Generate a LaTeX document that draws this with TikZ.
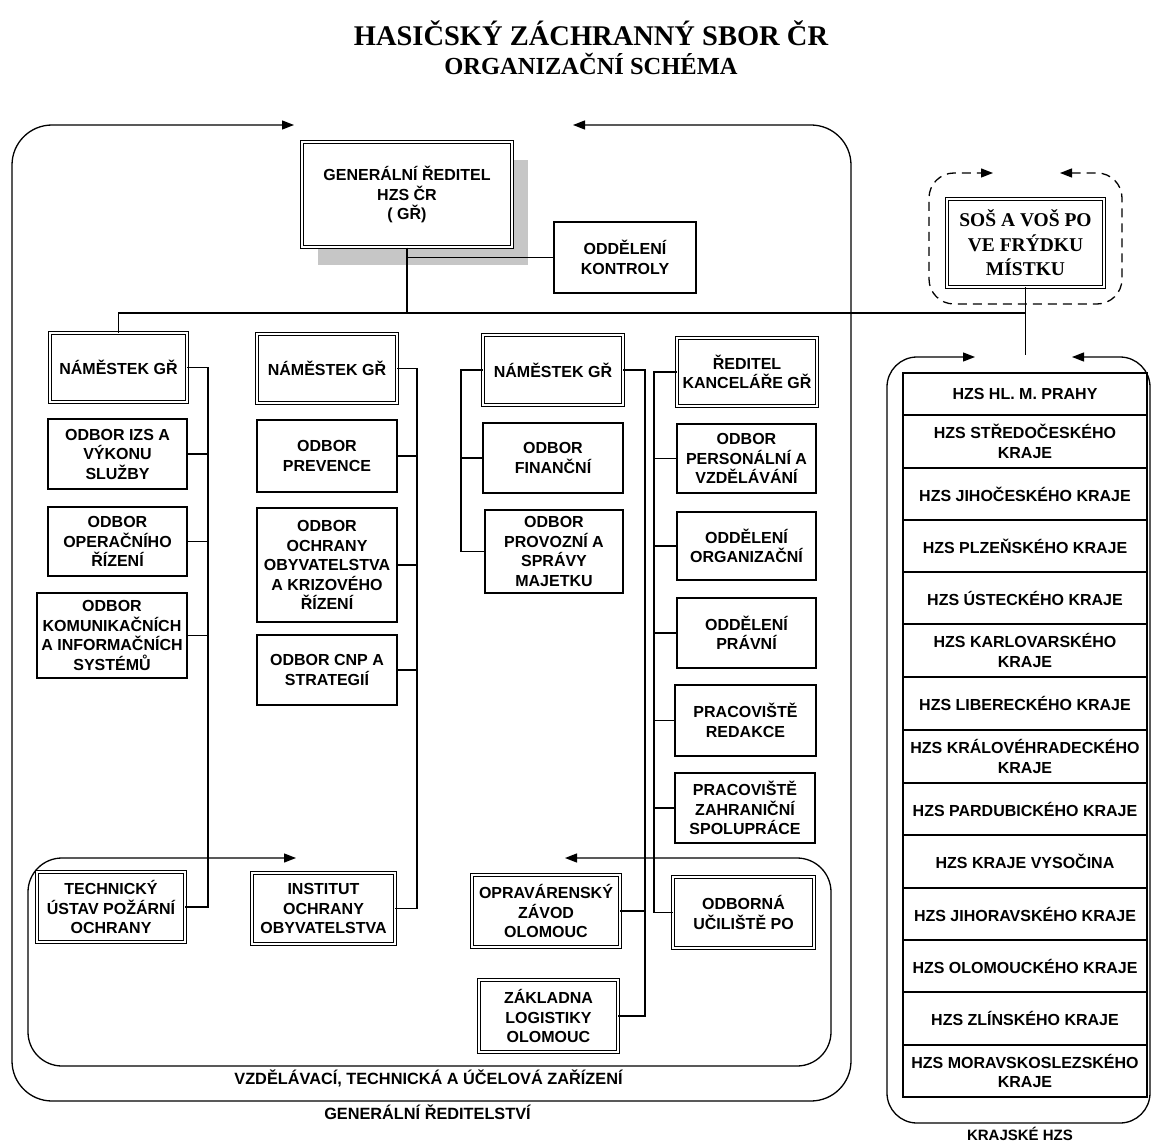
\documentclass[tikz,border=0pt]{standalone}
\usepackage{fontspec}
\setmainfont{Liberation Serif}
\newfontfamily\hv{Liberation Sans}
\usetikzlibrary{arrows.meta}
\newcommand{\boxfont}{\hv\bfseries\fontsize{16}{19.5}\selectfont}
\tikzset{
  bx/.style={draw, line width=1.1pt, inner sep=1pt, align=center, font=\boxfont, fill=white},
  dbx/.style={bx, double, double distance=1.6pt, line width=0.9pt},
  conn/.style={line width=1.2pt},
  frame/.style={line width=1.3pt, {Triangle[length=12pt,width=9pt]}-{Triangle[length=12pt,width=9pt]}},
  lbl/.style={font=\hv\bfseries\fontsize{16.3}{18}\selectfont, inner sep=0pt}
}
\begin{document}
\begin{tikzpicture}[x=1pt,y=-1pt]
\useasboundingbox[fill=white] (0,0) rectangle (1152,1142);

% titles
\node[font=\bfseries\fontsize{28.5}{30}\selectfont, inner sep=0pt] (t1) at (591,33) {HASIČSKÝ ZÁCHRANNÝ SBOR ČR};
\node[font=\bfseries\fontsize{24.5}{26}\selectfont, inner sep=0pt] (t2) at (591,64) {ORGANIZAČNÍ SCHÉMA};

% frames
\draw[frame, rounded corners=40pt] (573,125) -- (851,125) -- (851,1101) -- (12,1101) -- (12,125) -- (294,125);
\draw[frame, rounded corners=34pt] (565,858) -- (831,858) -- (831,1066) -- (28,1066) -- (28,858) -- (296,858);
\draw[frame, dashed, dash pattern=on 9pt off 6pt, rounded corners=25pt] (1060,173) -- (1122,173) -- (1122,304) -- (929,304) -- (929,173) -- (993,173);
\draw[frame, rounded corners=30pt] (1072,357) -- (1150,357) -- (1150,1123) -- (887,1123) -- (887,357) -- (975,357);

% GR with shadow
\fill[gray!45] (318,160) rectangle (528,265);
\node[dbx, minimum width=210pt, minimum height=105pt, line width=1.2pt] (gr) at (407,194.5) {GENERÁLNÍ ŘEDITEL\\HZS ČR\\( GŘ)};
\node[bx, minimum width=142pt, minimum height=71pt] (kon) at (625,257.5) {ODDĚLENÍ\\KONTROLY};
\node[dbx, minimum width=157pt, minimum height=88pt, font=\bfseries\fontsize{19.5}{24.5}\selectfont] (sos) at (1025.5,243) {SOŠ A VOŠ PO\\VE FRÝDKU\\MÍSTKU};

% heads
\node[dbx, minimum width=137pt, minimum height=69pt] (n1) at (118.5,367.5) {NÁMĚSTEK GŘ};
\node[dbx, minimum width=140pt, minimum height=69pt] (n2) at (327,368.5) {NÁMĚSTEK GŘ};
\node[dbx, minimum width=140pt, minimum height=70pt] (n3) at (553,370) {NÁMĚSTEK GŘ};
\node[dbx, minimum width=140pt, minimum height=68pt] (rk) at (747,372) {ŘEDITEL\\KANCELÁŘE GŘ};

% column 1
\node[bx, minimum width=139pt, minimum height=70pt] (izs) at (117.5,454) {ODBOR IZS A\\VÝKONU\\SLUŽBY};
\node[bx, minimum width=139pt, minimum height=69pt] (oper) at (117.5,541.5) {ODBOR\\OPERAČNÍHO\\ŘÍZENÍ};
\node[bx, minimum width=150pt, minimum height=85pt] (kom) at (112,635.5) {ODBOR\\KOMUNIKAČNÍCH\\A INFORMAČNÍCH\\SYSTÉMŮ};
\node[dbx, minimum width=148pt, minimum height=70pt] (tu) at (111,907) {TECHNICKÝ\\ÚSTAV POŽÁRNÍ\\OCHRANY};

% column 2
\node[bx, minimum width=140pt, minimum height=72pt] (prev) at (327,456) {ODBOR\\PREVENCE};
\node[bx, minimum width=140pt, minimum height=114pt] (ochr) at (327,565) {ODBOR\\OCHRANY\\OBYVATELSTVA\\A KRIZOVÉHO\\ŘÍZENÍ};
\node[bx, minimum width=140pt, minimum height=70pt] (cnp) at (327,670) {ODBOR CNP A\\STRATEGIÍ};
\node[dbx, minimum width=143pt, minimum height=71pt] (ioo) at (323.5,908.5) {INSTITUT\\OCHRANY\\OBYVATELSTVA};

% column 3
\node[bx, minimum width=140pt, minimum height=70pt] (fin) at (553,458) {ODBOR\\FINANČNÍ};
\node[bx, minimum width=138pt, minimum height=83pt] (prov) at (554,551.5) {ODBOR\\PROVOZNÍ A\\SPRÁVY\\MAJETKU};
\node[dbx, minimum width=148pt, minimum height=72pt] (ozo) at (546,911) {OPRAVÁRENSKÝ\\ZÁVOD\\OLOMOUC};
\node[dbx, minimum width=139pt, minimum height=72pt] (zlo) at (548.5,1016) {ZÁKLADNA\\LOGISTIKY\\OLOMOUC};

% column 4
\node[bx, minimum width=139pt, minimum height=69pt] (pers) at (746.5,458.5) {ODBOR\\PERSONÁLNÍ A\\VZDĚLÁVÁNÍ};
\node[bx, minimum width=139pt, minimum height=68pt] (org) at (746.5,546) {ODDĚLENÍ\\ORGANIZAČNÍ};
\node[bx, minimum width=139pt, minimum height=70pt] (prav) at (746.5,633) {ODDĚLENÍ\\PRÁVNÍ};
\node[bx, minimum width=141pt, minimum height=71pt] (red) at (745.5,720.5) {PRACOVIŠTĚ\\REDAKCE};
\node[bx, minimum width=140pt, minimum height=70pt] (zahr) at (745,808) {PRACOVIŠTĚ\\ZAHRANIČNÍ\\SPOLUPRÁCE};
\node[dbx, minimum width=141pt, minimum height=71pt] (oupo) at (743.5,912.5) {ODBORNÁ\\UČILIŠTĚ PO};

% krajske list
\node[bx, minimum width=244pt, minimum height=42pt] (k1) at (1025,394) {HZS HL. M. PRAHY};
\node[bx, minimum width=244pt, minimum height=53pt] (k2) at (1025,441.5) {HZS STŘEDOČESKÉHO\\KRAJE};
\node[bx, minimum width=244pt, minimum height=52pt] (k3) at (1025,494) {HZS JIHOČESKÉHO KRAJE};
\node[bx, minimum width=244pt, minimum height=52pt] (k4) at (1025,546) {HZS PLZEŇSKÉHO KRAJE};
\node[bx, minimum width=244pt, minimum height=52pt] (k5) at (1025,598) {HZS ÚSTECKÉHO KRAJE};
\node[bx, minimum width=244pt, minimum height=53pt] (k6) at (1025,650.5) {HZS KARLOVARSKÉHO\\KRAJE};
\node[bx, minimum width=244pt, minimum height=53pt] (k7) at (1025,703.5) {HZS LIBERECKÉHO KRAJE};
\node[bx, minimum width=244pt, minimum height=53pt] (k8) at (1025,756.5) {HZS KRÁLOVÉHRADECKÉHO\\KRAJE};
\node[bx, minimum width=244pt, minimum height=52pt] (k9) at (1025,809) {HZS PARDUBICKÉHO KRAJE};
\node[bx, minimum width=244pt, minimum height=53pt] (k10) at (1025,861.5) {HZS KRAJE VYSOČINA};
\node[bx, minimum width=244pt, minimum height=52pt] (k11) at (1025,914) {HZS JIHORAVSKÉHO KRAJE};
\node[bx, minimum width=244pt, minimum height=52pt] (k12) at (1025,966) {HZS OLOMOUCKÉHO KRAJE};
\node[bx, minimum width=244pt, minimum height=53pt] (k13) at (1025,1018.5) {HZS ZLÍNSKÉHO KRAJE};
\node[bx, minimum width=244pt, minimum height=52pt] (k14) at (1025,1071) {HZS MORAVSKOSLEZSKÉHO\\KRAJE};

% labels
\node[lbl] (lvz) at (428.5,1078) {VZDĚLÁVACÍ, TECHNICKÁ A ÚČELOVÁ ZAŘÍZENÍ};
\node[lbl] (lgr) at (427.5,1112) {GENERÁLNÍ ŘEDITELSTVÍ};
\node[lbl, font=\hv\bfseries\fontsize{15}{17}\selectfont] (lkr) at (1020,1134) {KRAJSKÉ HZS};

% connectors
\coordinate (mL) at (118.5,313);
\coordinate (mR) at (1025.5,313);
\coordinate (sE) at (1025.5,355);
\draw[conn] (gr.south) -- (gr.south |- mL);
\draw[conn] (gr.south |- kon.west) -- (kon.west);
\draw[conn] (n1.north) -- (mL) -- (mR);
\draw[conn] (sos.south) -- (sE);

\coordinate (b1) at (208,0);
\draw[conn] (n1.east) -| (b1 |- tu.east) -- (tu.east);
\foreach \n in {izs,oper,kom} \draw[conn] (\n.east) -- (\n.east -| b1);

\coordinate (b2) at (417,0);
\draw[conn] (n2.east) -| (b2 |- ioo.east) -- (ioo.east);
\foreach \n in {prev,ochr,cnp} \draw[conn] (\n.east) -- (\n.east -| b2);

\coordinate (b3) at (461,0);
\draw[conn] (n3.west) -| (b3 |- prov.west) -- (prov.west);
\draw[conn] (fin.west) -- (fin.west -| b3);

\coordinate (b3r) at (645,0);
\draw[conn] (n3.east) -| (b3r |- zlo.east) -- (zlo.east);
\draw[conn] (ozo.east) -- (ozo.east -| b3r);

\coordinate (b4) at (654,0);
\draw[conn] (rk.west) -| (b4 |- oupo.west) -- (oupo.west);
\foreach \n in {pers,org,prav,red,zahr} \draw[conn] (\n.west) -- (\n.west -| b4);
\end{tikzpicture}
\end{document}
